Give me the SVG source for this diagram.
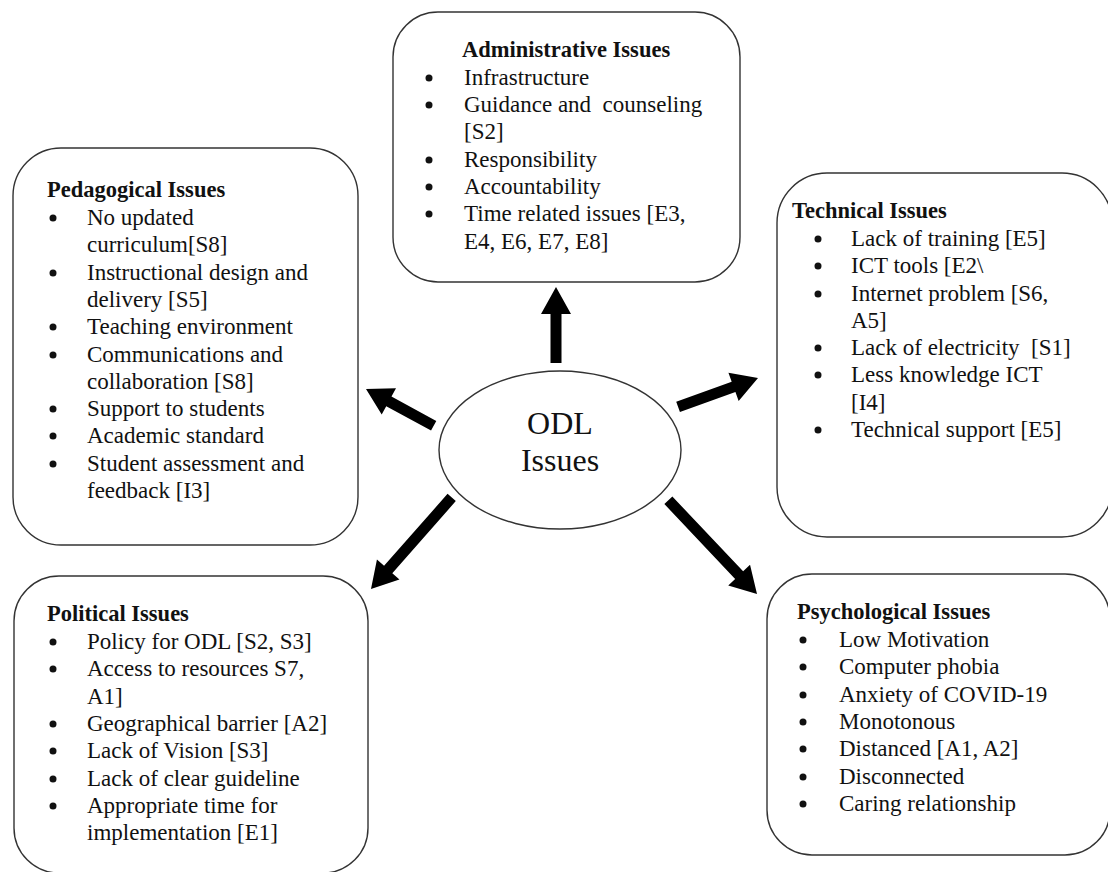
<svg xmlns="http://www.w3.org/2000/svg" width="1108" height="872" viewBox="0 0 1108 872">
<style>
.box{fill:#fff;stroke:#333;stroke-width:1.4}
.h{font-family:"Liberation Serif","Times New Roman",serif;font-size:22.5px;font-weight:bold;fill:#111}
.t{font-family:"Liberation Serif","Times New Roman",serif;font-size:23px;fill:#111;white-space:pre}
.b{fill:#111}
.arr{fill:#000}
.c{font-family:"Liberation Serif","Times New Roman",serif;font-size:32px;fill:#111;text-anchor:middle}
</style>
<rect width="1108" height="872" fill="#fff"/>

<g id="admin">
<rect class="box" x="393" y="12" width="347" height="270" rx="45" ry="45"/>
<text class="h" x="462" y="57">Administrative Issues</text>
<circle class="b" cx="429" cy="78" r="3.5"/><text class="t" x="464" y="85">Infrastructure</text>
<circle class="b" cx="429" cy="105" r="3.5"/><text class="t" x="464" y="112">Guidance and  counseling</text>
<text class="t" x="464" y="139">[S2]</text>
<circle class="b" cx="429" cy="160" r="3.5"/><text class="t" x="464" y="167">Responsibility</text>
<circle class="b" cx="429" cy="187" r="3.5"/><text class="t" x="464" y="194">Accountability</text>
<circle class="b" cx="429" cy="214" r="3.5"/><text class="t" x="464" y="221">Time related issues [E3,</text>
<text class="t" x="464" y="249">E4, E6, E7, E8]</text>
</g>

<g id="pedagogical">
<rect class="box" x="13" y="148" width="345" height="397" rx="48" ry="48"/>
<text class="h" x="47" y="197">Pedagogical Issues</text>
<circle class="b" cx="53" cy="218" r="3.5"/><text class="t" x="87" y="225">No updated</text>
<text class="t" x="87" y="252">curriculum[S8]</text>
<circle class="b" cx="53" cy="273" r="3.5"/><text class="t" x="87" y="280">Instructional design and</text>
<text class="t" x="87" y="307">delivery [S5]</text>
<circle class="b" cx="53" cy="327" r="3.5"/><text class="t" x="87" y="334">Teaching environment</text>
<circle class="b" cx="53" cy="355" r="3.5"/><text class="t" x="87" y="362">Communications and</text>
<text class="t" x="87" y="389">collaboration [S8]</text>
<circle class="b" cx="53" cy="409" r="3.5"/><text class="t" x="87" y="416">Support to students</text>
<circle class="b" cx="53" cy="436" r="3.5"/><text class="t" x="87" y="443">Academic standard</text>
<circle class="b" cx="53" cy="464" r="3.5"/><text class="t" x="87" y="471">Student assessment and</text>
<text class="t" x="87" y="498">feedback [I3]</text>
</g>

<g id="technical">
<rect class="box" x="777" y="173" width="335" height="364" rx="50" ry="50"/>
<text class="h" x="792" y="218">Technical Issues</text>
<circle class="b" cx="818" cy="239" r="3.5"/><text class="t" x="851" y="246">Lack of training [E5]</text>
<circle class="b" cx="818" cy="266" r="3.5"/><text class="t" x="851" y="273">ICT tools [E2\</text>
<circle class="b" cx="818" cy="294" r="3.5"/><text class="t" x="851" y="301">Internet problem [S6,</text>
<text class="t" x="851" y="328">A5]</text>
<circle class="b" cx="818" cy="348" r="3.5"/><text class="t" x="851" y="355">Lack of electricity  [S1]</text>
<circle class="b" cx="818" cy="375" r="3.5"/><text class="t" x="851" y="382">Less knowledge ICT</text>
<text class="t" x="851" y="410">[I4]</text>
<circle class="b" cx="818" cy="430" r="3.5"/><text class="t" x="851" y="437">Technical support [E5]</text>
</g>

<g id="political">
<rect class="box" x="14" y="576" width="354" height="297" rx="45" ry="45"/>
<text class="h" x="47" y="621">Political Issues</text>
<circle class="b" cx="53" cy="642" r="3.5"/><text class="t" x="87" y="649">Policy for ODL [S2, S3]</text>
<circle class="b" cx="53" cy="669" r="3.5"/><text class="t" x="87" y="676">Access to resources S7,</text>
<text class="t" x="87" y="704">A1]</text>
<circle class="b" cx="53" cy="724" r="3.5"/><text class="t" x="87" y="731">Geographical barrier [A2]</text>
<circle class="b" cx="53" cy="751" r="3.5"/><text class="t" x="87" y="758">Lack of Vision [S3]</text>
<circle class="b" cx="53" cy="779" r="3.5"/><text class="t" x="87" y="786">Lack of clear guideline</text>
<circle class="b" cx="53" cy="806" r="3.5"/><text class="t" x="87" y="813">Appropriate time for</text>
<text class="t" x="87" y="840">implementation [E1]</text>
</g>

<g id="psychological">
<rect class="box" x="767" y="574" width="343" height="281" rx="45" ry="45"/>
<text class="h" x="797" y="619">Psychological Issues</text>
<circle class="b" cx="803" cy="640" r="3.5"/><text class="t" x="839" y="647">Low Motivation</text>
<circle class="b" cx="803" cy="667" r="3.5"/><text class="t" x="839" y="674">Computer phobia</text>
<circle class="b" cx="803" cy="695" r="3.5"/><text class="t" x="839" y="702">Anxiety of COVID-19</text>
<circle class="b" cx="803" cy="722" r="3.5"/><text class="t" x="839" y="729">Monotonous</text>
<circle class="b" cx="803" cy="749" r="3.5"/><text class="t" x="839" y="756">Distanced [A1, A2]</text>
<circle class="b" cx="803" cy="777" r="3.5"/><text class="t" x="839" y="784">Disconnected</text>
<circle class="b" cx="803" cy="804" r="3.5"/><text class="t" x="839" y="811">Caring relationship</text>
</g>

<g id="center">
<ellipse cx="560" cy="450" rx="121" ry="79" fill="#fff" stroke="#333" stroke-width="1.4"/>
<text class="c" x="560" y="434">ODL</text>
<text class="c" x="560" y="471">Issues</text>
</g>

<g id="connectors">
<polygon class="arr" points="0,0 -27,-15 -27,-5.5 -76,-5.5 -76,5.5 -27,5.5 -27,15" transform="translate(556,287) rotate(-90)"/>
<polygon class="arr" points="0,0 -26,-15 -26,-5.5 -77,-5.5 -77,5.5 -26,5.5 -26,15" transform="translate(366,389) rotate(-151.5)"/>
<polygon class="arr" points="0,0 -26,-15 -26,-5.5 -85,-5.5 -85,5.5 -26,5.5 -26,15" transform="translate(758,378) rotate(-19.9)"/>
<polygon class="arr" points="0,0 -26,-15 -26,-5.5 -122,-5.5 -122,5.5 -26,5.5 -26,15" transform="translate(371,589) rotate(131.4)"/>
<polygon class="arr" points="0,0 -26,-15 -26,-5.5 -129,-5.5 -129,5.5 -26,5.5 -26,15" transform="translate(757,594) rotate(46.6)"/>
</g>
</svg>
